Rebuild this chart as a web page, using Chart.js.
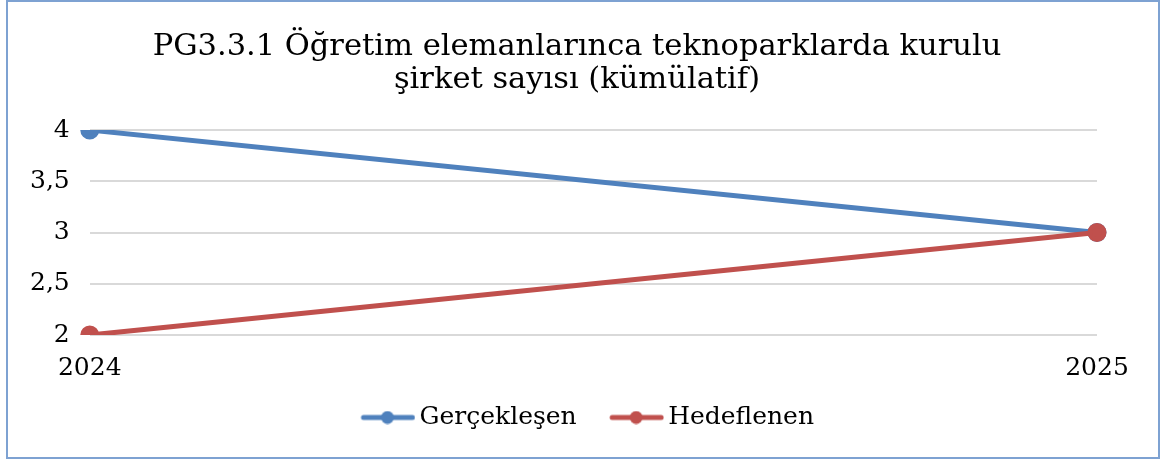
<!DOCTYPE html>
<html>
<head>
<meta charset="utf-8">
<script src="https://cdn.jsdelivr.net/npm/chart.js@4"></script>
<style>
  body { margin: 0; background: #fff; }
  #box {
    position: absolute; left: 6px; top: 0px;
    width: 1150px; height: 455px;
    border: 2px solid #7ea2d2;
  }
</style>
</head>
<body>
<div id="box"><canvas id="graph"></canvas></div>
<script>
const years = ['2024', '2025'];
const actual = [4, 3];   // Gerçekleşen
const target = [2, 3];   // Hedeflenen
const titleLines = ['PG3.3.1 Öğretim elemanlarınca teknoparklarda kurulu', 'şirket sayısı (kümülatif)'];

const FONT = "'DejaVu Serif', serif";

// legend marker: line with a dot, kept on the right side of the image
// (the empty left part gives the gap between legend items)
function legendIcon(color) {
    const c = document.createElement('canvas');
    c.width = 84; c.height = 14;
    const g = c.getContext('2d');
    g.strokeStyle = color; g.lineWidth = 5; g.lineCap = 'round';
    g.beginPath(); g.moveTo(32, 7); g.lineTo(81, 7); g.stroke();
    g.fillStyle = color;
    g.beginPath(); g.arc(56, 7, 6.5, 0, Math.PI * 2); g.fill();
    return c;
}

var ctx = document.getElementById('graph').getContext('2d');

new Chart(ctx, {
    type: 'line',
    data: {
        labels: years,
        datasets: [
            {
                label: 'Gerçekleşen',
                data: actual,
                borderColor: '#4f81bd',
                backgroundColor: '#4f81bd',
                borderWidth: 5,
                pointRadius: 7,
                order: 2
            },
            {
                label: 'Hedeflenen',
                data: target,
                borderColor: '#c0504d',
                backgroundColor: '#c0504d',
                borderWidth: 5,
                pointRadius: 7,
                order: 1
            }
        ]
    },
    options: {
        responsive: true,
        maintainAspectRatio: false,
        animation: false,
        layout: { padding: { left: 2, right: 14, top: 14, bottom: 17 } },
        scales: {
            x: {
                offset: false,
                grid: { display: false },
                border: { display: false },
                ticks: { color: '#000', font: { family: FONT, size: 25 }, padding: 10, maxRotation: 0 }
            },
            y: {
                min: 2, max: 4,
                grid: { color: '#d9d9d9', lineWidth: 2, drawTicks: false },
                border: { display: false },
                ticks: {
                    stepSize: 0.5,
                    color: '#000',
                    padding: 20,
                    font: { family: FONT, size: 25 },
                    callback: v => String(v).replace('.', ',')
                }
            },
            // empty right margin
            yRight: {
                position: 'right',
                grid: { display: false },
                border: { display: false },
                ticks: { display: false },
                afterFit: scale => { scale.width = 47; }
            }
        },
        plugins: {
            title: {
                display: true,
                text: titleLines,
                color: '#000',
                font: { family: FONT, size: 30.5, weight: 'normal', lineHeight: 1.1 },
                padding: { top: 14, bottom: 33 }
            },
            legend: {
                position: 'bottom',
                labels: {
                    color: '#000',
                    font: { family: FONT, size: 25 },
                    usePointStyle: true,
                    pointStyleWidth: 67,
                    padding: 12,
                    generateLabels: chart => chart.data.datasets.map((ds, i) => ({
                        text: ds.label,
                        pointStyle: legendIcon(ds.borderColor),
                        fontColor: '#000',
                        datasetIndex: i,
                        hidden: false,
                        lineWidth: 0,
                        strokeStyle: 'transparent',
                        fillStyle: 'transparent'
                    }))
                }
            },
            tooltip: { enabled: false }
        }
    }
});
</script>
</body>
</html>
